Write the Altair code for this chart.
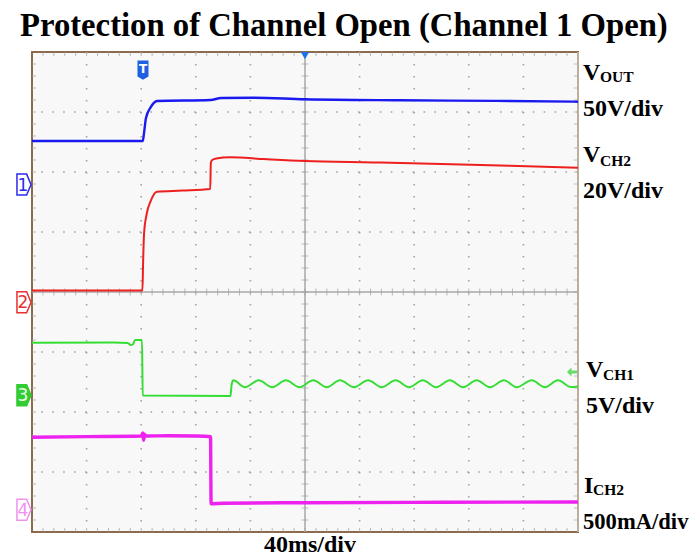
import altair as alt
import pandas as pd

# ---------------- data (time in ms, 40 ms/div; amplitude in screen divisions) ----------------
vout_t = [0, 81.2, 81.9, 83.5, 87, 91.6, 130.9, 138.5, 162, 200, 270, 340, 400]
vout_v = [2.517, 2.517, 2.62, 2.9, 3.08, 3.183, 3.2, 3.233, 3.238, 3.212, 3.195, 3.185, 3.172]

vch2_t = [0, 80.9, 81.4, 82.1, 84, 87, 91.6, 110, 130.6, 131.0, 132, 135, 145, 170, 200, 250, 300, 350, 400]
vch2_v = [0.025, 0.025, 0.5, 0.98, 1.3, 1.52, 1.672, 1.69, 1.717, 2.15, 2.2, 2.225, 2.245, 2.215, 2.183, 2.16, 2.135, 2.105, 2.072]

vch1_t = [0, 60, 70, 72.5, 74, 75.5, 80.6, 81.1, 145.4, 146.2,
          147.5, 156, 166, 176, 186, 196, 206, 216, 225.6, 235.9,
          246.2, 256.2, 266.4, 276.2, 286.4, 296, 306.2, 315.8, 325.8, 335.5,
          345.8, 355.1, 366.1, 375.8, 385.3, 395, 400]
vch1_v = [-0.845, -0.84, -0.85, -0.883, -0.87, -0.8, -0.8, -1.725, -1.733, -1.55,
          -1.472, -1.588, -1.472, -1.588, -1.472, -1.588, -1.472, -1.588, -1.472, -1.588,
          -1.472, -1.588, -1.472, -1.588, -1.472, -1.588, -1.472, -1.588, -1.472, -1.588,
          -1.472, -1.588, -1.472, -1.588, -1.472, -1.585, -1.575]

ich2_t = [0, 40, 80, 81.2, 81.8, 82.4, 83.2, 100, 120, 130.8, 131.2, 140, 200, 300, 400]
ich2_v = [-2.42, -2.41, -2.4, -2.35, -2.47, -2.37, -2.4, -2.395, -2.4, -2.41, -3.53, -3.52, -3.512, -3.505, -3.5]

marker_labels = ["1", "2", "3", "4"]
marker_levels = [1.79, -0.17, -1.72, -3.63]
trigger_t, trigger_d = 81.3, 3.7

title_text = "Protection of Channel Open (Channel 1 Open)"
right_main = ["V", "50V/div", "V", "20V/div", "V", "5V/div", "I", "500mA/div"]
right_sub = ["OUT", "CH2", "CH1", "CH2"]
time_label = "40ms/div"

# grid structure
major_t = [40, 80, 120, 160, 240, 280, 320, 360]
major_d = [-3, -2, -1, 1, 2, 3]
minor_t = [i * 8 for i in range(1, 50)]
minor_d = [round(-4 + i * 0.2, 2) for i in range(1, 40)]

# ---------------- helpers ----------------
xs = alt.Scale(domain=[0, 400], nice=False, zero=False)
ys = alt.Scale(domain=[-4, 4], nice=False, zero=False)
X = alt.X("t:Q", scale=xs, axis=None)
Y = alt.Y("d:Q", scale=ys, axis=None)
SERIF = "Liberation Serif"
GRID = "#a3a3a3"

layers = []

# dotted grid
layers.append(alt.Chart(pd.DataFrame({"t": major_t})).mark_rule(
    color=GRID, strokeWidth=1.6, strokeDash=[1.6, 10.4]).encode(x=X))
layers.append(alt.Chart(pd.DataFrame({"d": major_d})).mark_rule(
    color=GRID, strokeWidth=1.6, strokeDash=[1.6, 9.32]).encode(y=Y))
# center cross
layers.append(alt.Chart(pd.DataFrame({"t": [200]})).mark_rule(
    color="#a8a8a8", strokeWidth=1.5).encode(x=X))
layers.append(alt.Chart(pd.DataFrame({"d": [0]})).mark_rule(
    color="#a8a8a8", strokeWidth=1.5).encode(y=Y))
layers.append(alt.Chart(pd.DataFrame({"t": [200] * len(minor_d), "d": minor_d})).mark_tick(
    orient="horizontal", size=7, thickness=1, color="#a0a0a0").encode(x=X, y=Y))
layers.append(alt.Chart(pd.DataFrame({"t": minor_t, "d": [0] * len(minor_t)})).mark_tick(
    orient="vertical", size=7, thickness=1, color="#a0a0a0").encode(x=X, y=Y))
# border ticks
layers.append(alt.Chart(pd.DataFrame({"t": [0] * len(minor_d), "d": minor_d})).mark_tick(
    orient="horizontal", size=4, thickness=1, xOffset=2, color="#a0a0a0").encode(x=X, y=Y))
layers.append(alt.Chart(pd.DataFrame({"t": [400] * len(minor_d), "d": minor_d})).mark_tick(
    orient="horizontal", size=4, thickness=1, xOffset=-2, color="#a0a0a0").encode(x=X, y=Y))
layers.append(alt.Chart(pd.DataFrame({"t": minor_t, "d": [4] * len(minor_t)})).mark_tick(
    orient="vertical", size=4, thickness=1, yOffset=2, color="#a0a0a0").encode(x=X, y=Y))
layers.append(alt.Chart(pd.DataFrame({"t": minor_t, "d": [-4] * len(minor_t)})).mark_tick(
    orient="vertical", size=4, thickness=1, yOffset=-2, color="#a0a0a0").encode(x=X, y=Y))
# right border (lighter)
layers.append(alt.Chart(pd.DataFrame({"t": [400]})).mark_rule(
    color="#bcae9c", strokeWidth=2).encode(x=X))

# traces
def trace(ts, vs, color, width):
    return alt.Chart(pd.DataFrame({"t": ts, "d": vs})).mark_line(
        color=color, strokeWidth=width, interpolate="monotone").encode(x=X, y=Y, order="t:Q")

layers.append(trace(vout_t, vout_v, "#1a1aee", 2.4))
layers.append(trace(vch2_t, vch2_v, "#ee1f1f", 2.0))
layers.append(trace(vch1_t, vch1_v, "#33dd33", 2.0))
layers.append(trace(ich2_t, ich2_v, "#ee22ee", 3.4))

# channel ground markers
MARK_PATH = "M-0.67,-1 L0.25,-1 L0.67,0 L0.25,1 L-0.67,1 Z"
mk_stroke = ["#2a2aee", "#e83030", "#33cc33", "#f090f0"]
mk_fill = ["white", "white", "#33cc33", "white"]
mk_text = ["#2a2aee", "#e83030", "#e8ffe8", "#f090f0"]
for i in range(4):
    df = pd.DataFrame({"d": [marker_levels[i]], "lab": [marker_labels[i]]})
    layers.append(alt.Chart(df).mark_point(
        shape=MARK_PATH, size=441, filled=True, fill=mk_fill[i], stroke=mk_stroke[i],
        strokeWidth=1.5, opacity=1).encode(x=alt.value(-8), y=Y))
    layers.append(alt.Chart(df).mark_text(
        font="DejaVu Sans", fontSize=17, color=mk_text[i], baseline="middle", dx=-1, dy=1).encode(
        x=alt.value(-8), y=Y, text="lab:N"))

# trigger marker
T_PATH = "M-0.53,-1 L0.53,-1 L0.53,0.7 L0,1 L-0.53,0.7 Z"
tdf = pd.DataFrame({"t": [trigger_t], "d": [trigger_d], "lab": ["T"]})
layers.append(alt.Chart(tdf).mark_point(shape=T_PATH, size=289, filled=True,
    fill="#2060e0", stroke="#2060e0", opacity=1).encode(x=X, y=Y))
layers.append(alt.Chart(tdf).mark_text(font="DejaVu Sans", fontWeight="bold", fontSize=12,
    color="white", baseline="middle", dy=-1).encode(x=X, y=Y, text="lab:N"))
# top position marker
layers.append(alt.Chart(pd.DataFrame({"t": [200], "d": [3.94]})).mark_point(
    shape="triangle-down", size=70, filled=True, color="#1f6fe8", opacity=1).encode(x=X, y=Y))
# level arrow on right
ARROW = "M-1,0 L-0.1,-0.9 L-0.1,-0.3 L1,-0.3 L1,0.3 L-0.1,0.3 L-0.1,0.9 Z"
layers.append(alt.Chart(pd.DataFrame({"t": [395.6], "d": [-1.333]})).mark_point(
    shape=ARROW, size=100, filled=True, color="#66dd66", opacity=1).encode(x=X, y=Y))

# text
def txt(s, x, y, size, align="left"):
    return alt.Chart(pd.DataFrame({"s": [s]})).mark_text(
        align=align, baseline="alphabetic", font=SERIF, fontWeight="bold",
        fontSize=size, color="black").encode(x=alt.value(x), y=alt.value(y), text="s:N")

layers.append(txt(title_text, -12, -16, 32.7))
main_pos = [(551, 28), (551, 64), (551, 110), (551, 146), (554, 325), (554, 361), (552, 441), (551, 477)]
main_size = [24, 24, 24, 24, 24, 24, 24, 22.6]
sub_pos = [(568, 30), (568, 114), (571, 328), (561, 443)]
for s, (x, y), fs in zip(right_main, main_pos, main_size):
    layers.append(txt(s, x, y, fs))
for s, (x, y) in zip(right_sub, sub_pos):
    layers.append(txt(s, x, y, 15.5))
layers.append(txt(time_label, 278, 500, 24, align="center"))

chart = alt.layer(*layers).properties(
    width=546, height=480,
    padding={"left": 24, "top": 44, "right": 112, "bottom": 26},
    autosize=alt.AutoSizeParams(type="none"),
    background="white",
).configure_view(stroke="#8b6b4b", strokeWidth=2, fill="#f8f8f8")

chart.save("out.html", embed_options={"renderer": "svg", "actions": False})
